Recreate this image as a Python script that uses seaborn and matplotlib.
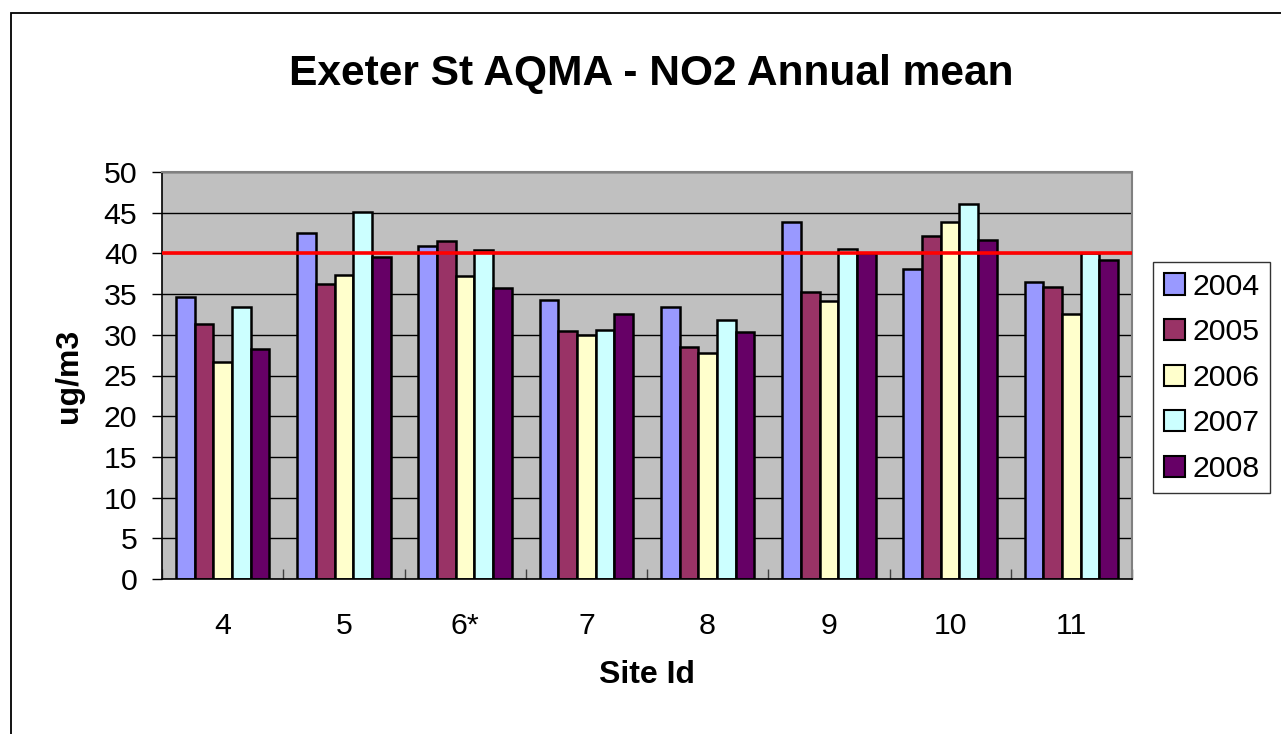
import matplotlib
matplotlib.use("Agg")
import matplotlib.pyplot as plt
import matplotlib.patches as mpatches
import seaborn as sns
import pandas as pd

sites = ["4", "5", "6*", "7", "8", "9", "10", "11"]
years = ["2004", "2005", "2006", "2007", "2008"]
v2004 = [34.6, 42.5, 40.9, 34.3, 33.4, 43.8, 38.1, 36.5]
v2005 = [31.3, 36.3, 41.5, 30.5, 28.5, 35.2, 42.1, 35.9]
v2006 = [26.7, 37.4, 37.2, 30.0, 27.8, 34.1, 43.9, 32.6]
v2007 = [33.4, 45.1, 40.4, 30.6, 31.8, 40.6, 46.1, 40.0]
v2008 = [28.2, 39.5, 35.7, 32.5, 30.3, 40.0, 41.6, 39.2]
colors = ["#9999FF", "#993366", "#FFFFCC", "#CCFFFF", "#660066"]
limit_value = 40
yticks = [0, 5, 10, 15, 20, 25, 30, 35, 40, 45, 50]

series = [v2004, v2005, v2006, v2007, v2008]
rows = []
for yr, vals in zip(years, series):
    for s, v in zip(sites, vals):
        rows.append({"Site": s, "Year": yr, "Value": v})
df = pd.DataFrame(rows)

sns.set_style("white")
plt.rcParams["font.family"] = ["Liberation Sans", "DejaVu Sans"]
plt.rcParams["text.color"] = "black"
plt.rcParams["axes.labelcolor"] = "black"
plt.rcParams["xtick.color"] = "black"
plt.rcParams["ytick.color"] = "black"

W, H = 1281, 734
fig = plt.figure(figsize=(W / 100, H / 100), dpi=100)
ax = fig.add_axes([162 / W, 1 - 579 / H, (1132 - 162) / W, (579 - 172) / H])
ax.set_facecolor("#C0C0C0")

sns.barplot(data=df, x="Site", y="Value", hue="Year", order=sites, hue_order=years,
            palette=colors, width=0.77, edgecolor="black", linewidth=1.8,
            saturation=1, ax=ax, legend=True, errorbar=None)

ax.set_xlim(-0.5, len(sites) - 0.5)
ax.set_ylim(0, 50)
ax.set_yticks(yticks)
ax.yaxis.grid(True, color="black", linewidth=1.0)
ax.set_axisbelow(True)
ax.axhline(limit_value, color="#FF0000", linewidth=2.6, zorder=5)

for sp in ["top", "right"]:
    ax.spines[sp].set_color("#808080")
    ax.spines[sp].set_linewidth(1.5)
for sp in ["left", "bottom"]:
    ax.spines[sp].set_color("black")
    ax.spines[sp].set_linewidth(1.2)

ax.tick_params(axis="y", which="major", direction="out", length=7.2, width=1,
               color="black", labelcolor="black", pad=10.5, labelsize=21.8, left=True)
ax.tick_params(axis="x", which="major", length=0, pad=24, labelsize=21.8,
               labelcolor="black")
ax.set_xticks([i - 0.5 for i in range(len(sites) + 1)], minor=True)
ax.tick_params(axis="x", which="minor", direction="in", length=7.2, width=1,
               color="#404040", bottom=True)

ax.set_xlabel("Site Id", fontsize=23, fontweight="bold", labelpad=14, color="black")
ax.set_ylabel("ug/m3", fontsize=23, fontweight="bold", labelpad=14, color="black")

fig.text(651 / W, 1 - 74 / H, "Exeter St AQMA - NO2 Annual mean", ha="center",
         va="center", fontsize=30.6, fontweight="bold", color="black")

handles, labels = ax.get_legend_handles_labels()
ax.get_legend().remove()
leg = fig.legend(handles, labels, loc="upper left",
                 bbox_to_anchor=(1153 / W, 1 - 262 / H), fontsize=21.8,
                 frameon=True, fancybox=False, edgecolor="black",
                 handlelength=0.7, handleheight=0.7, handletextpad=0.25,
                 labelspacing=0.58, borderpad=0.35, borderaxespad=0)
leg.get_frame().set_linewidth(1.0)
for t in leg.get_texts():
    t.set_color("black")
for h in leg.legend_handles:
    h.set_edgecolor("black")
    h.set_linewidth(1.5)

border = mpatches.Rectangle((11 / W, -0.2), 1.5, (1 - 13 / H) + 0.2,
                            transform=fig.transFigure, fill=False,
                            edgecolor="black", linewidth=1.3)
fig.patches.append(border)

fig.savefig("out.png", dpi=100, facecolor="white")
